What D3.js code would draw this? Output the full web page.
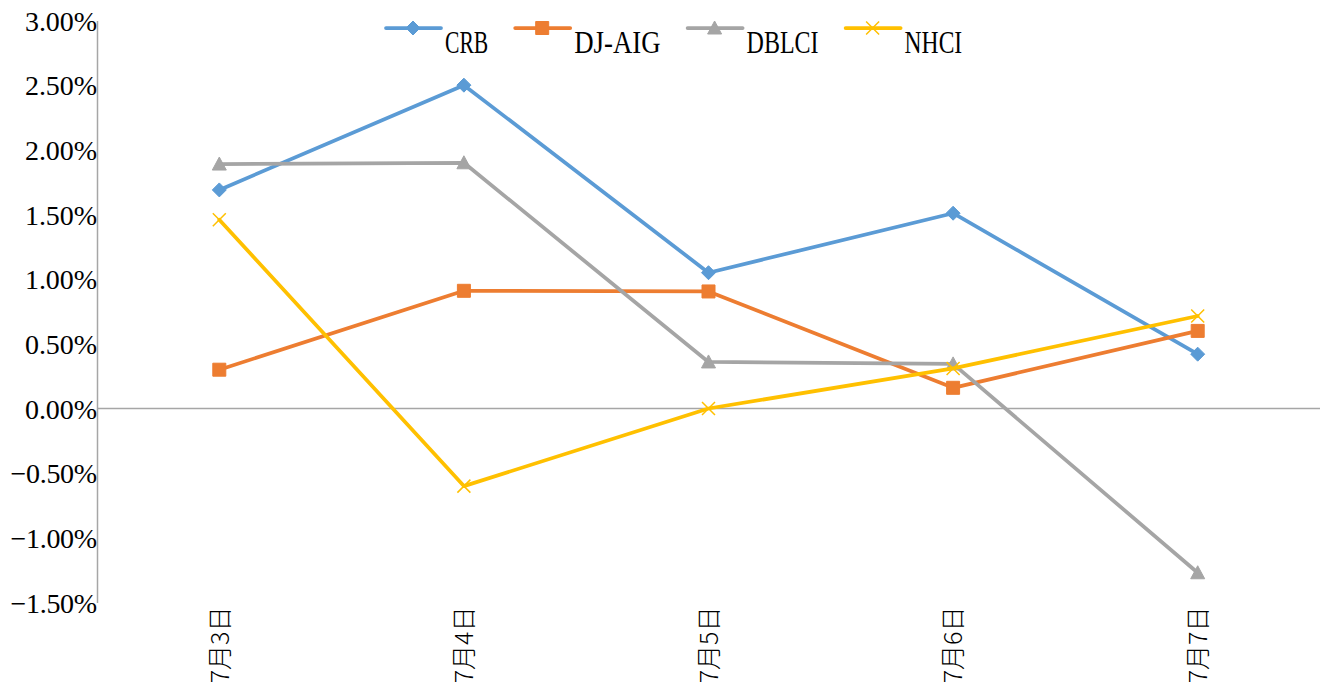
<!DOCTYPE html>
<html>
<head>
	<meta charset="utf-8">
	<script src="https://cdn.jsdelivr.net/npm/d3@7"></script>
	<style>
		html, body {
			padding: 0;
			margin: 0;
			background: #fff;
		}
	</style>
</head>
<body>
	<script>
		var width = 1323, height = 693;

		// data
		var categories = ["7月3日", "7月4日", "7月5日", "7月6日", "7月7日"];
		var seriesNames = ["CRB", "DJ-AIG", "DBLCI", "NHCI"];
		var crb   = [1.69, 2.50, 1.05, 1.51, 0.42];
		var djaig = [0.30, 0.91, 0.905, 0.16, 0.60];
		var dblci = [1.89, 1.90, 0.36, 0.345, -1.27];
		var nhci  = [1.46, -0.60, 0.00, 0.31, 0.715];
		var yTicks = [-1.5, -1.0, -0.5, 0, 0.5, 1.0, 1.5, 2.0, 2.5, 3.0];

		var seriesValues = [crb, djaig, dblci, nhci];
		var colors = ["#5B9BD5", "#ED7D31", "#A5A5A5", "#FFC000"];
		var markers = ["diamond", "square", "triangle", "x"];

		var svg = d3.select("body").append("svg")
			.attr("width", width)
			.attr("height", height);

		var plotLeft = 97, plotRight = 1320, plotTop = 20.5, plotBottom = 602.5;

		var x = d3.scalePoint()
			.domain(categories)
			.range([plotLeft, plotRight])
			.padding(0.5);

		var y = d3.scaleLinear()
			.domain([-1.5, 3.0])
			.range([plotBottom, plotTop]);

		/* y axis */
		var yAxis = svg.append("g")
			.attr("transform", "translate(" + plotLeft + ",0)")
			.call(d3.axisLeft(y)
				.tickValues(yTicks)
				.tickSize(0)
				.tickFormat(function(d) { return d3.format(".2f")(d) + "%"; }));

		yAxis.select(".domain")
			.attr("stroke", "#A6A6A6")
			.attr("stroke-width", 1.5);

		yAxis.selectAll("text")
			.attr("x", 0)
			.attr("dy", "0.35em")
			.attr("fill", "#000")
			.style("font-family", "'Liberation Serif', serif")
			.style("font-size", "28px")
			.attr("text-anchor", "end")
			.attr("lengthAdjust", "spacing")
			.attr("textLength", function() { return this.textContent.length * 14.4; });

		/* zero line */
		svg.append("line")
			.attr("x1", plotLeft)
			.attr("x2", plotRight)
			.attr("y1", y(0))
			.attr("y2", y(0))
			.attr("stroke", "#A6A6A6")
			.attr("stroke-width", 1.5);

		/* category labels under the plot */
		var xAxis = svg.append("g")
			.attr("transform", "translate(0," + plotBottom + ")")
			.call(d3.axisBottom(x).tickSize(0));

		xAxis.select(".domain").remove();

		xAxis.selectAll("text")
			.attr("y", 0)
			.attr("x", -4)
			.attr("dy", "0.35em")
			.attr("transform", "rotate(-90)")
			.attr("text-anchor", "end")
			.attr("fill", "#000")
			.style("font-family", "'Noto Sans CJK SC', sans-serif")
			.style("font-size", "25px")
			.style("font-weight", 300);

		/* markers */
		var markerPath = function(type) {
			if (type == "diamond") {
				return "M0,-7L7,0L0,7L-7,0Z";
			}
			else if (type == "square") {
				return "M-6.5,-6.5L6.5,-6.5L6.5,6.5L-6.5,6.5Z";
			}
			else if (type == "triangle") {
				return "M0,-7L7,6L-7,6Z";
			}
			else {
				return "M-6.5,-6.5L6.5,6.5M6.5,-6.5L-6.5,6.5";
			}
		};

		var drawMarker = function(g, type, color, cx, cy) {
			var p = g.append("path")
				.attr("d", markerPath(type))
				.attr("transform", "translate(" + cx + "," + cy + ")");
			if (type == "x") {
				p.attr("fill", "none").attr("stroke", color).attr("stroke-width", 1.5);
			}
			else {
				p.attr("fill", color).attr("stroke", color).attr("stroke-width", 1);
			}
		};

		/* lines */
		var line = d3.line()
			.x(function(d, i) { return x(categories[i]); })
			.y(function(d) { return y(d); });

		for (var s = 0; s < seriesNames.length; s++) {
			var g = svg.append("g");
			g.append("path")
				.datum(seriesValues[s])
				.attr("d", line)
				.attr("fill", "none")
				.attr("stroke", colors[s])
				.attr("stroke-width", 3.75)
				.attr("stroke-linejoin", "round")
				.attr("stroke-linecap", "round");
			for (var i = 0; i < categories.length; i++) {
				drawMarker(g, markers[s], colors[s], x(categories[i]), y(seriesValues[s][i]));
			}
		}

		/* legend */
		var legend = svg.append("g");
		var lx = 386, ly = 28;
		for (var s = 0; s < seriesNames.length; s++) {
			var item = legend.append("g");
			item.append("line")
				.attr("x1", lx)
				.attr("x2", lx + 55)
				.attr("y1", ly)
				.attr("y2", ly)
				.attr("stroke", colors[s])
				.attr("stroke-width", 3.75)
				.attr("stroke-linecap", "round");
			drawMarker(item, markers[s], colors[s], lx + 27, ly);
			var tw = seriesNames[s].length * 14.4;
			item.append("text")
				.attr("x", lx + 59)
				.attr("y", ly + 25)
				.attr("fill", "#000")
				.style("font-family", "'Liberation Serif', serif")
				.style("font-size", "31px")
				.attr("lengthAdjust", "spacingAndGlyphs")
				.attr("textLength", tw)
				.text(seriesNames[s]);
			lx = lx + 59 + tw + 27;
		}
	</script>
</body>
</html>
